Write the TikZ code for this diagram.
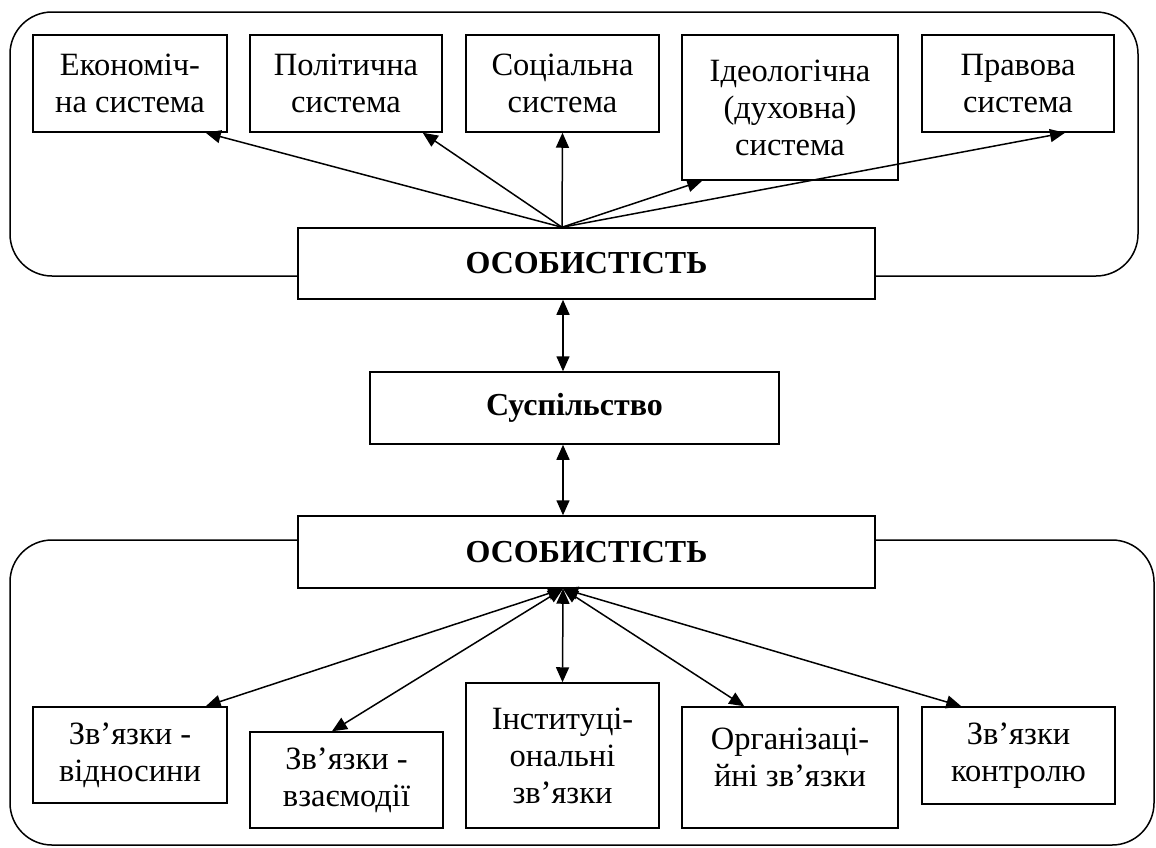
\documentclass[tikz,border=0pt]{standalone}
\usepackage{fontspec}
\setmainfont{Liberation Serif}
\usetikzlibrary{arrows.meta,calc}
\begin{document}
\begin{tikzpicture}[x=1pt,y=-1pt,line width=1.5pt,
    box/.style={draw,fill=white,align=center,inner sep=2pt,
      font=\fontsize{32.5}{37}\selectfont},
    mainbox/.style={box,font=\fontsize{32}{37}\selectfont\bfseries},
    tip/.style={-{Triangle[length=15pt,width=13pt]}},
    both/.style={{Triangle[length=15pt,width=13pt]}-{Triangle[length=15pt,width=13pt]}}]
  \useasboundingbox (0,0) rectangle (1156,847);
  \draw[rounded corners=42pt] (10,12) rectangle (1138,276);
  \draw[rounded corners=42pt] (10,540) rectangle (1154,845);
  \node[box,minimum width=194pt,minimum height=97pt] (econ) at (130,83.5) {Економіч-\\на система};
  \node[box,minimum width=192pt,minimum height=97pt] (polit) at (346,83.5) {Політична\\система};
  \node[box,minimum width=193pt,minimum height=97pt] (social) at (562.5,83.5) {Соціальна\\система};
  \node[box,minimum width=216pt,minimum height=145pt] (ideol) at (790,107.5) {Ідеологічна\\(духовна)\\система};
  \node[box,minimum width=192pt,minimum height=97pt] (prav) at (1018,83.5) {Правова\\система};
  \node[mainbox,minimum width=577pt,minimum height=71pt] (osobA) at (586.5,263.5) {ОСОБИСТІСТЬ};
  \node[mainbox,minimum width=409pt,minimum height=72pt] (susp) at (574.5,408) {Суспільство};
  \node[mainbox,minimum width=577pt,minimum height=72pt] (osobB) at (586.5,552) {ОСОБИСТІСТЬ};
  \node[box,minimum width=194pt,minimum height=96pt] (vidn) at (130,755) {Зв’язки -\\відносини};
  \node[box,minimum width=193pt,minimum height=96pt] (vzaem) at (346.5,780) {Зв’язки -\\взаємодії};
  \node[box,minimum width=193pt,minimum height=145pt] (inst) at (562.5,755.5) {Інституці-\\ональні\\зв’язки};
  \node[box,minimum width=216pt,minimum height=121pt,text depth=20pt] (org) at (790,767.5) {Організаці-\\йні зв’язки};
  \node[box,minimum width=193pt,minimum height=97pt] (kontr) at (1018.5,755.5) {Зв’язки\\контролю};
  \coordinate (hubA) at ([xshift=-24.5pt]osobA.north);
  \coordinate (hubB) at ([xshift=-23.5pt]osobB.south);
  \begin{scope}[tip]
    \draw (hubA) to ([xshift=-22pt]econ.south east);
    \draw (hubA) to ([xshift=-20pt]polit.south east);
    \draw (hubA) to (social.south);
    \draw (hubA) to ([xshift=21pt]ideol.south west);
    \draw (hubA) to ([xshift=47pt]prav.south);
  \end{scope}
  \begin{scope}[both]
    \draw ([xshift=-23.5pt]osobA.south) to ([xshift=-11.5pt]susp.north);
    \draw ([xshift=-11.5pt]susp.south) to ([xshift=-23.5pt]osobB.north);
    \draw (hubB) to ([xshift=-22pt]vidn.north east);
    \draw (hubB) to ([xshift=-14.5pt]vzaem.north);
    \draw (hubB) to (inst.north);
    \draw (hubB) to ([xshift=63pt]org.north west);
    \draw (hubB) to ([xshift=40pt]kontr.north west);
  \end{scope}
\end{tikzpicture}
\end{document}
